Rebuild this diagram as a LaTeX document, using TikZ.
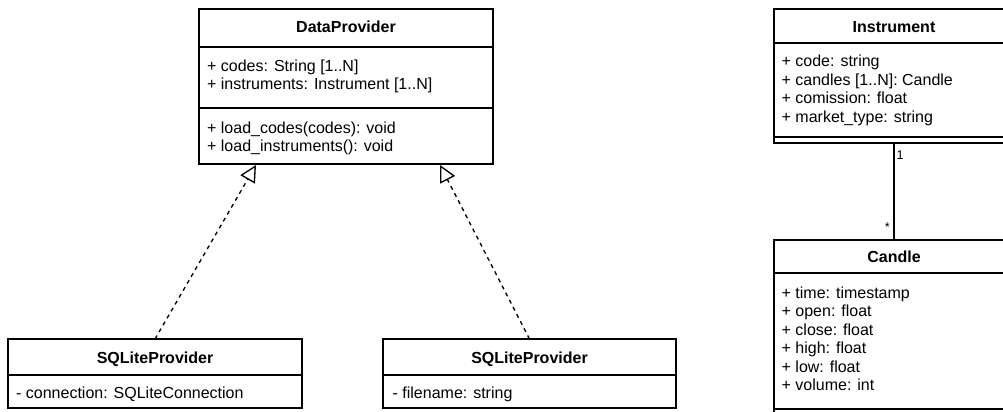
\documentclass[tikz,border=0pt]{standalone}
\usepackage{fontspec}
\setmainfont{Liberation Sans}
\usetikzlibrary{arrows.meta}
\begin{document}
\begin{tikzpicture}[x=0.75pt,y=-0.75pt,
  line width=1pt,
  classbox/.style={draw, line width=1pt, anchor=north west, inner sep=0pt, outer sep=0pt},
  classtitle/.style={font=\fontsize{12pt}{14pt}\selectfont\bfseries, anchor=base, inner sep=0pt},
  member/.style={font=\fontsize{12pt}{14pt}\selectfont, anchor=base west, inner sep=0pt},
  mult/.style={font=\fontsize{9.5pt}{11pt}\selectfont, inner sep=0pt},
  realizes/.style={dash pattern=on 3pt off 3pt, -{Triangle[open, length=12.5pt, width=12.5pt]}},
]
\clip (0,0) rectangle (1003,411);
\fill[white] (0,0) rectangle (1003,411);

% ---- DataProvider ----
\node[classbox, minimum width=294*0.75pt, minimum height=155*0.75pt] (dp) at (199,9) {};
\draw (199,47) -- (493,47);
\draw (199,108) -- (493,108);
\node[classtitle] (dpname) at (346,32) {DataProvider};
\node[member] (dpa1) at (206.5,71) {+ codes: String [1..N]};
\node[member] (dpa2) at (206.5,89) {+ instruments: Instrument [1..N]};
\node[member] (dpm1) at (206.5,133) {+ load\_codes(codes): void};
\node[member] (dpm2) at (206.5,151.5) {+ load\_instruments(): void};

% ---- SQLiteProvider (connection) ----
\node[classbox, minimum width=294*0.75pt, minimum height=69*0.75pt] (sqlA) at (8,339) {};
\draw (8,375) -- (302,375);
\node[classtitle] (sqlAname) at (155,363) {SQLiteProvider};
\node[member] (sqlAa1) at (15.5,398) {- connection: SQLiteConnection};

% ---- SQLiteProvider (filename) ----
\node[classbox, minimum width=293*0.75pt, minimum height=69*0.75pt] (sqlB) at (383,339) {};
\draw (383,375) -- (676,375);
\node[classtitle] (sqlBname) at (529.5,363) {SQLiteProvider};
\node[member] (sqlBa1) at (392,398) {- filename: string};

% ---- realization arrows ----
\coordinate (tipA) at (256,165);
\coordinate (tipB) at (440,165);
\draw[realizes] (sqlA.north) -- (tipA);
\draw[realizes] (sqlB.north) -- (tipB);

% ---- Instrument ----
\node[classbox, minimum width=240*0.75pt, minimum height=134*0.75pt] (inst) at (774,9) {};
\draw (774,43) -- (1014,43);
\draw (774,137) -- (1014,137);
\node[classtitle] (instname) at (894,32) {Instrument};
\node[member] (insta1) at (781,66) {+ code: string};
\node[member] (insta2) at (781,85) {+ candles [1..N]: Candle};
\node[member] (insta3) at (781,103.5) {+ comission: float};
\node[member] (insta4) at (781,122.5) {+ market\_type: string};

% ---- Candle ----
\node[classbox, minimum width=240*0.75pt, minimum height=200*0.75pt] (candle) at (774,240) {};
\draw (774,273) -- (1014,273);
\draw (774,409) -- (1014,409);
\node[classtitle] (candlename) at (894,262) {Candle};
\node[member] (ca1) at (781,298) {+ time: timestamp};
\node[member] (ca2) at (781,316.5) {+ open: float};
\node[member] (ca3) at (781,335) {+ close: float};
\node[member] (ca4) at (781,353.5) {+ high: float};
\node[member] (ca5) at (781,372) {+ low: float};
\node[member] (ca6) at (781,390) {+ volume: int};

% ---- association ----
\draw (inst.south) -- (candle.north);
\node[mult, anchor=base west] (m1) at (896,159) {1};
\node[mult, anchor=base east] (m2) at (890.5,231) {*};
\end{tikzpicture}
\end{document}
